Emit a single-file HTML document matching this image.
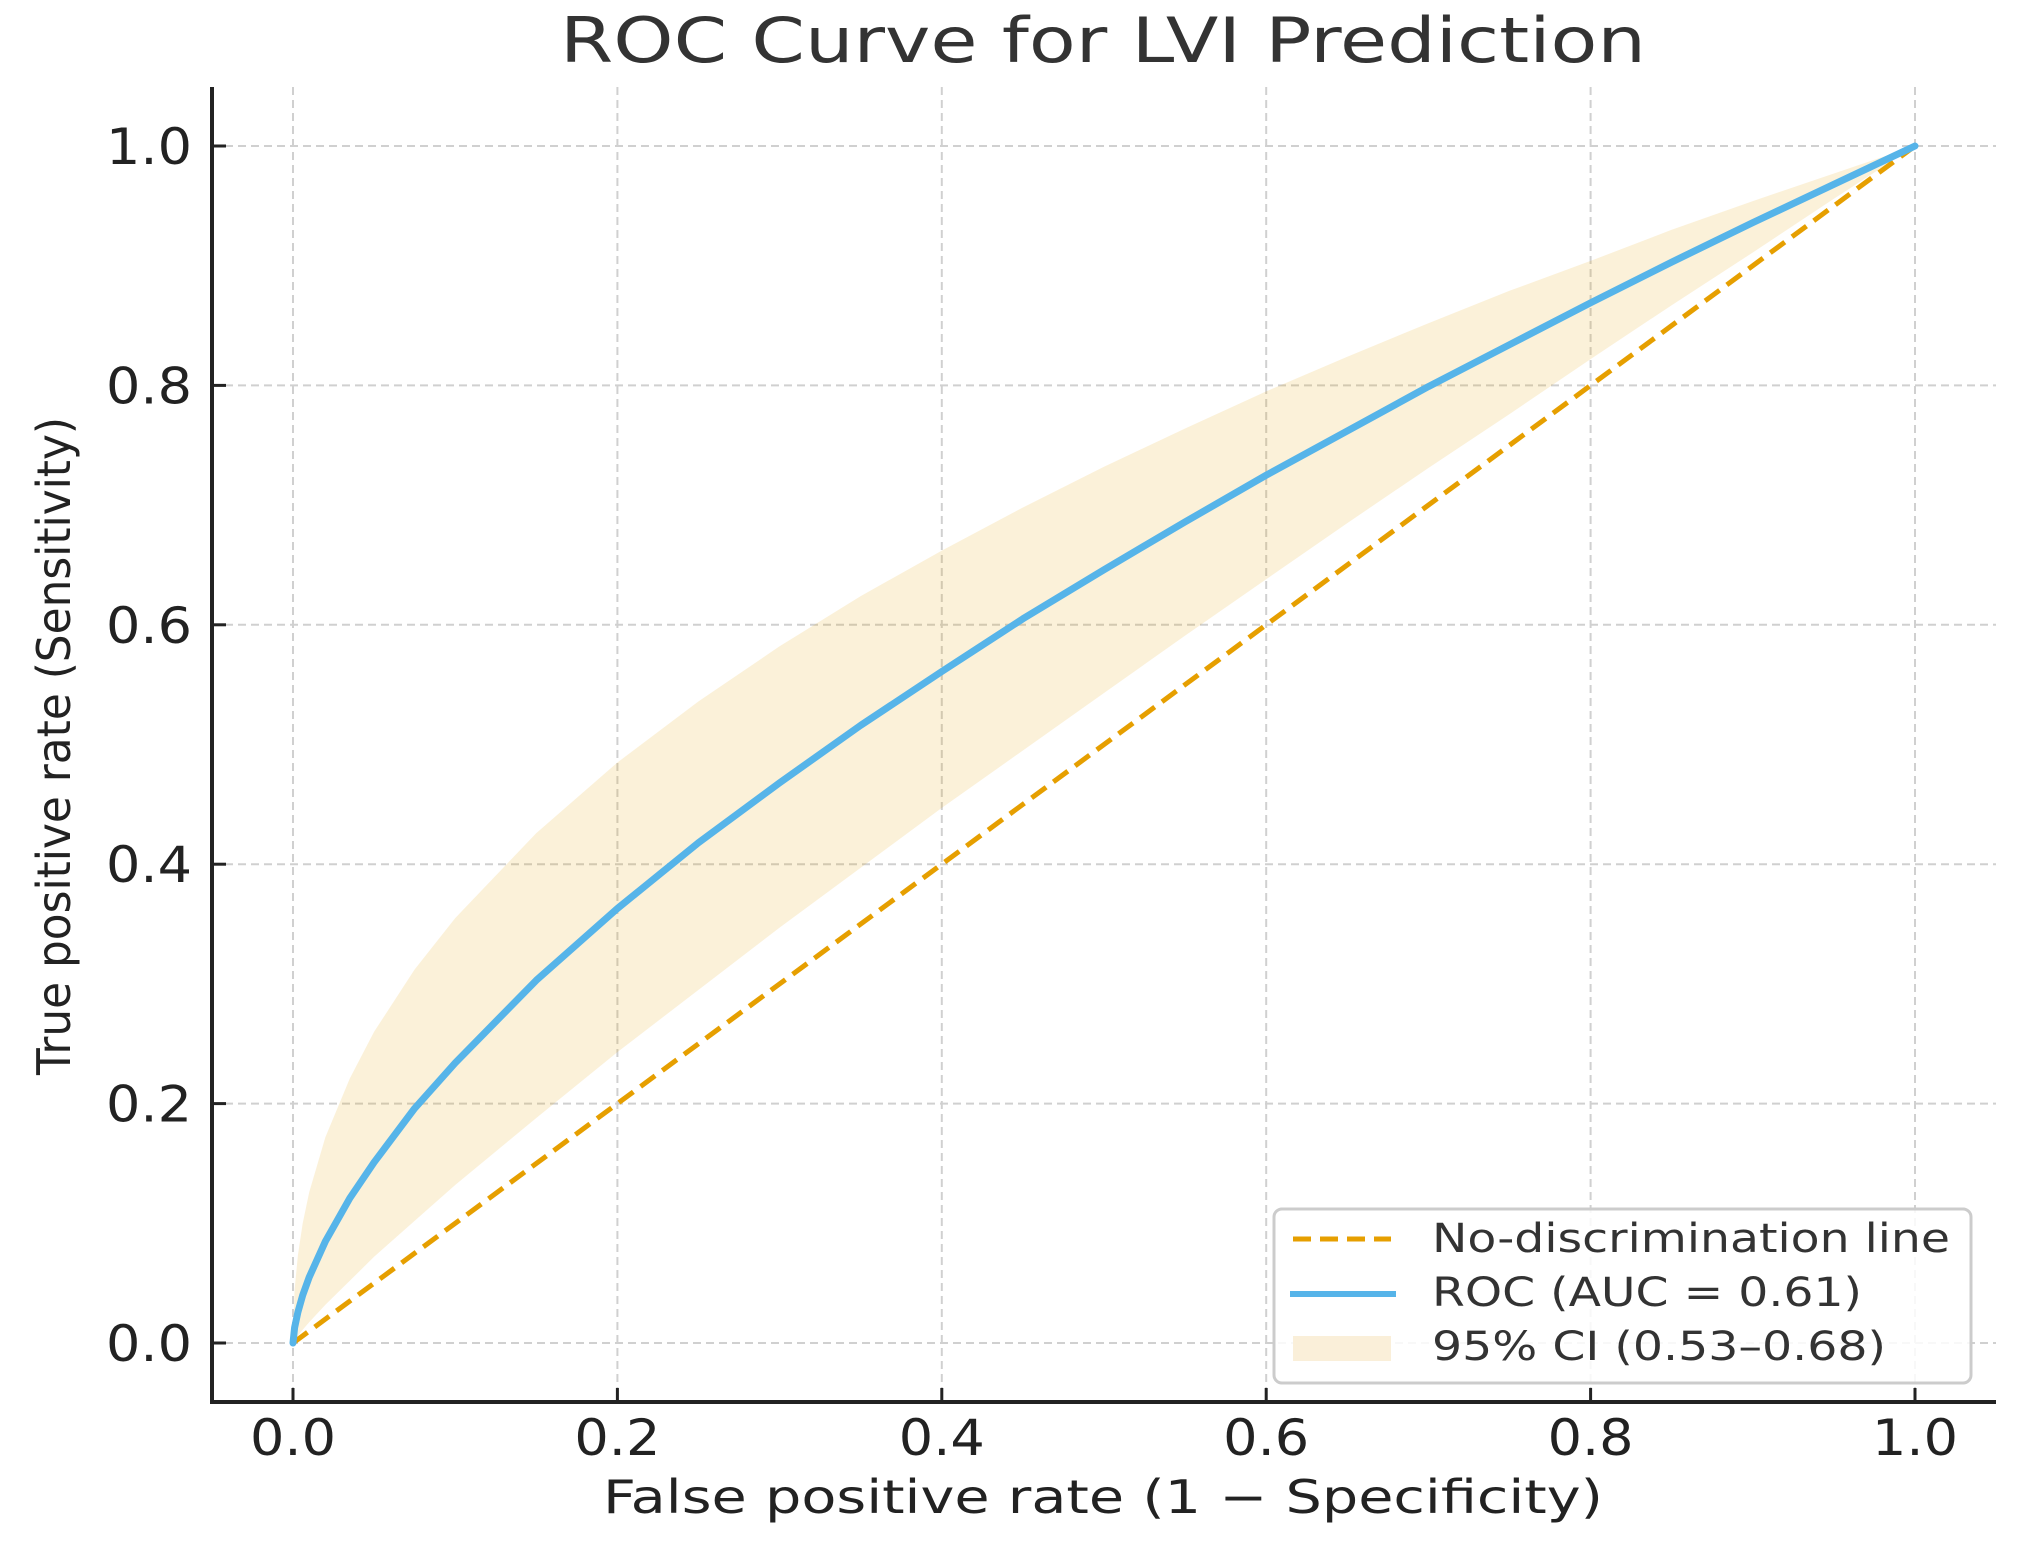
<!DOCTYPE html>
<html><head><meta charset="utf-8"><style>
html,body{margin:0;padding:0;background:#fff;}
svg{display:block;font-family:"DejaVu Sans","Liberation Sans",sans-serif;}
</style></head><body>
<svg id="chart" width="2021" height="1541" viewBox="0 0 2021 1541">
<text x="1103" y="62" font-size="62" fill="#333" text-anchor="middle" textLength="1086" lengthAdjust="spacingAndGlyphs">ROC Curve for LVI Prediction</text>
<g id="grid"></g>
<g id="plot"></g>
<g id="axes"></g>
<text x="1103" y="1513" font-size="46" fill="#222" text-anchor="middle" textLength="1000" lengthAdjust="spacingAndGlyphs">False positive rate (1 − Specificity)</text>
<text transform="translate(70,746) rotate(-90)" font-size="46" fill="#222" text-anchor="middle" textLength="658" lengthAdjust="spacingAndGlyphs">True positive rate (Sensitivity)</text>
<g>
<rect x="1274" y="1209" width="697" height="174" rx="8" fill="#fff" fill-opacity="0.85" stroke="#ccc" stroke-width="3"/>
<line x1="1293" y1="1239" x2="1391" y2="1239" stroke="#E69F00" stroke-width="5" stroke-dasharray="18,9"/>
<text x="1432" y="1252" font-size="40" fill="#333" textLength="518" lengthAdjust="spacingAndGlyphs">No-discrimination line</text>
<line x1="1290" y1="1294" x2="1396" y2="1294" stroke="#56B4E9" stroke-width="6"/>
<text x="1432" y="1306" font-size="40" fill="#333" textLength="430" lengthAdjust="spacingAndGlyphs">ROC (AUC = 0.61)</text>
<rect x="1293" y="1336" width="98" height="25" fill="#FAEFD9"/>
<text x="1432" y="1360" font-size="40" fill="#333" textLength="454" lengthAdjust="spacingAndGlyphs">95% CI (0.53–0.68)</text>
</g>
</svg>
<script>
const xTicks = [0.0, 0.2, 0.4, 0.6, 0.8, 1.0];
const yTicks = [0.0, 0.2, 0.4, 0.6, 0.8, 1.0];
const tickLabels = ["0.0", "0.2", "0.4", "0.6", "0.8", "1.0"];
const fprValues = [0, 0.001, 0.003, 0.006, 0.01, 0.02, 0.035, 0.05, 0.075, 0.1, 0.15, 0.2, 0.25, 0.3, 0.35, 0.4, 0.45, 0.5, 0.55, 0.6, 0.65, 0.7, 0.75, 0.8, 0.85, 0.9, 0.95, 1.0];
const tprValues = [0, 0.0129, 0.0257, 0.0399, 0.055, 0.085, 0.121, 0.151, 0.196, 0.234, 0.303, 0.363, 0.418, 0.468, 0.516, 0.561, 0.605, 0.646, 0.686, 0.725, 0.762, 0.799, 0.834, 0.869, 0.903, 0.936, 0.968, 1.0];
const ciUpper = [0, 0.0447, 0.0733, 0.100, 0.126, 0.172, 0.221, 0.260, 0.312, 0.355, 0.426, 0.485, 0.536, 0.582, 0.624, 0.662, 0.698, 0.732, 0.764, 0.795, 0.824, 0.852, 0.879, 0.904, 0.930, 0.954, 0.977, 1.0];
const ciLower = [0, 0.0023, 0.006, 0.011, 0.0174, 0.032, 0.052, 0.072, 0.102, 0.132, 0.188, 0.243, 0.295, 0.347, 0.397, 0.447, 0.495, 0.543, 0.591, 0.638, 0.685, 0.731, 0.776, 0.822, 0.867, 0.911, 0.956, 1.0];
const diagX = [0, 1];
const diagY = [0, 1];

const NS = "http://www.w3.org/2000/svg";
const X0 = 293, X1 = 1915, Y0 = 1343, Y1 = 146;
function sx(v){ return X0 + v * (X1 - X0); }
function sy(v){ return Y0 - v * (Y0 - Y1); }
function mk(tag, attrs, parent){
  const e = document.createElementNS(NS, tag);
  for (const k in attrs) e.setAttribute(k, attrs[k]);
  parent.appendChild(e);
  return e;
}
const grid = document.getElementById('grid');
const plot = document.getElementById('plot');
const axes = document.getElementById('axes');

xTicks.forEach((t, i) => {
  const g = mk('line', {x1: sx(t), x2: sx(t), y1: 87, y2: 1402, stroke: '#d0d0d0', 'stroke-width': 2, 'stroke-dasharray': '8,5'}, grid);
  
  
  const tk = mk('line', {x1: sx(t), x2: sx(t), y1: 1402, y2: 1388, stroke: '#222', 'stroke-width': 3}, axes);
  
  
  const lb = mk('text', {x: sx(t), y: 1455, 'font-size': 50, fill: '#222', 'text-anchor': 'middle', textLength: 86, lengthAdjust: 'spacingAndGlyphs'}, axes);
  lb.textContent = tickLabels[i];
  
  
});
yTicks.forEach((t, i) => {
  const g = mk('line', {x1: 212, x2: 1996, y1: sy(t), y2: sy(t), stroke: '#d0d0d0', 'stroke-width': 2, 'stroke-dasharray': '8,5'}, grid);
  
  
  const tk = mk('line', {x1: 212, x2: 226, y1: sy(t), y2: sy(t), stroke: '#222', 'stroke-width': 3}, axes);
  
  
  const lb = mk('text', {x: 192, y: sy(t) + 18, 'font-size': 50, fill: '#222', 'text-anchor': 'end', textLength: 86, lengthAdjust: 'spacingAndGlyphs'}, axes);
  lb.textContent = tickLabels[i];
  
  
});
const spL = mk('line', {x1: 212, x2: 212, y1: 87, y2: 1404, stroke: '#222', 'stroke-width': 4}, axes);


const spB = mk('line', {x1: 210, x2: 1996, y1: 1402, y2: 1402, stroke: '#222', 'stroke-width': 4}, axes);



// CI band
let d = fprValues.map((f, i) => (i ? 'L' : 'M') + sx(f).toFixed(1) + ',' + sy(ciUpper[i]).toFixed(1)).join(' ');
for (let i = fprValues.length - 1; i >= 0; i--) d += ' L' + sx(fprValues[i]).toFixed(1) + ',' + sy(ciLower[i]).toFixed(1);
const band = mk('path', {d: d + ' Z', fill: '#E69F00', 'fill-opacity': 0.15, stroke: 'none'}, plot);



// diagonal
const diag = mk('line', {x1: sx(diagX[0]), y1: sy(diagY[0]), x2: sx(diagX[1]), y2: sy(diagY[1]), stroke: '#E69F00', 'stroke-width': 5, 'stroke-dasharray': '18,9'}, plot);



// ROC curve
const pd = fprValues.map((f, i) => (i ? 'L' : 'M') + sx(f).toFixed(1) + ',' + sy(tprValues[i]).toFixed(1)).join(' ');
const roc = mk('path', {d: pd, fill: 'none', stroke: '#56B4E9', 'stroke-width': 7, 'stroke-linejoin': 'round', 'stroke-linecap': 'round'}, plot);


</script>
</body></html>
